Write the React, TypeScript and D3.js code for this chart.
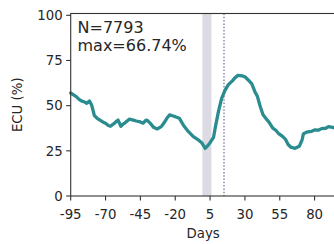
import { useMemo } from 'react'
import { scaleLinear, line, curveLinear } from 'd3'

// ECU trace around event day 0.
const days = [
  -95, -93, -91, -89, -87, -85, -83.5, -81.5, -80, -78, -76, -74, -72, -70, -68, -66.5, -65, -63.5, -62, -61,
  -59, -57.5, -56, -53, -50, -48, -45, -43, -41, -40, -38, -35.5, -33, -30, -28, -26, -24, -22, -20, -17,
  -14, -10.5, -7, -4, -1, 1.5, 3, 5, 7.5, 9, 11, 13.3, 15.7, 18, 21, 23, 25, 28, 30, 32,
  35, 37, 39, 41, 43, 45, 47, 50, 52, 54, 57, 59, 61, 63, 66, 69, 71, 72, 75, 78,
  80, 83, 85, 88, 90, 93, 95,
]
const ecu = [
  57, 56, 55, 53.5, 52.5, 52, 51.3, 52.6, 50.4, 44.5, 43, 42, 41, 40.3, 39, 38.6, 39.5, 40.3, 41.5, 42,
  38.6, 39.8, 40.5, 42.5, 42, 41.5, 41, 40.3, 42, 41.8, 40.3, 38, 37.1, 38.4, 40.5, 43, 44.9, 44.4, 43.9, 43,
  39, 35.6, 32.9, 31.4, 29.5, 26.4, 27.5, 29.5, 32.5, 39, 46.7, 54, 58.5, 61.5, 63.7, 65.5, 66.74, 66.5, 66, 64.5,
  62, 58, 55, 49.5, 45, 43, 41.2, 37.5, 36.5, 34.7, 33, 31.5, 28.5, 27, 26.4, 27.5, 31, 34.5, 35.5, 35.8,
  36.6, 36.5, 37.3, 37.5, 38.4, 38, 37.5,
]
const xTicks = [-95, -70, -45, -20, 5, 30, 55, 80]
const yTicks = [0, 25, 50, 75, 100]
const band = [-0.5, 6]
const marker = 15
const infoLines = ['N=7793', 'max=66.74%']

const W = 334
const H = 244
const M = { left: 70.7, top: 13.5, right: 335.5, bottom: 196 }
const FONT = 'DejaVu Sans, sans-serif'
const INK = '#262626'

export default function App() {
  const x = useMemo(() => scaleLinear().domain([-95, 95]).range([M.left, M.right]), [])
  const y = useMemo(() => scaleLinear().domain([0, 101]).range([M.bottom, M.top]), [])
  const path = line<number>()
    .x((_, i) => x(days[i]))
    .y((d) => y(d))
    .curve(curveLinear)(ecu)

  return (
    <div style={{ position: 'fixed', left: 0, top: 0 }}>
      <svg width={W} height={H} style={{ display: 'block', background: '#fff' }} fontFamily={FONT}>
        <rect x={x(band[0])} y={M.top} width={x(band[1]) - x(band[0])} height={M.bottom - M.top} fill="#dcdbe4" />
        <line
          x1={x(marker)}
          x2={x(marker)}
          y1={M.top}
          y2={M.bottom}
          stroke="#9391ad"
          strokeWidth={1.6}
          strokeDasharray="1.5 1.8"
        />
        <path d={path ?? ''} fill="none" stroke="#2b8c90" strokeWidth={3.3} strokeLinejoin="round" strokeLinecap="round" />

        {/* spines */}
        <rect x={M.left} y={M.top} width={M.right - M.left} height={M.bottom - M.top} fill="none" stroke="#333" strokeWidth={1.1} />

        {yTicks.map((t) => (
          <g key={t}>
            <line x1={M.left - 4.5} x2={M.left} y1={y(t)} y2={y(t)} stroke="#333" strokeWidth={1.1} />
            <text x={M.left - 8} y={y(t)} dy="0.36em" textAnchor="end" fontSize={13.3} fill={INK}>
              {t}
            </text>
          </g>
        ))}
        {xTicks.map((t) => (
          <g key={t}>
            <line x1={x(t)} x2={x(t)} y1={M.bottom} y2={M.bottom + 4.5} stroke="#333" strokeWidth={1.1} />
            <text x={x(t)} y={M.bottom + 23} textAnchor="middle" fontSize={13.3} fill={INK}>
              {t}
            </text>
          </g>
        ))}

        <text x={(M.left + M.right) / 2} y={238} textAnchor="middle" fontSize={13.3} fill={INK}>
          Days
        </text>
        <text transform={`translate(22, ${(M.top + M.bottom) / 2}) rotate(-90)`} textAnchor="middle" fontSize={13.3} fill={INK}>
          ECU (%)
        </text>

        {infoLines.map((s, i) => (
          <text key={s} x={77.5} y={33.3 + i * 17.4} fontSize={16} fill={INK}>
            {s}
          </text>
        ))}
      </svg>
    </div>
  )
}
